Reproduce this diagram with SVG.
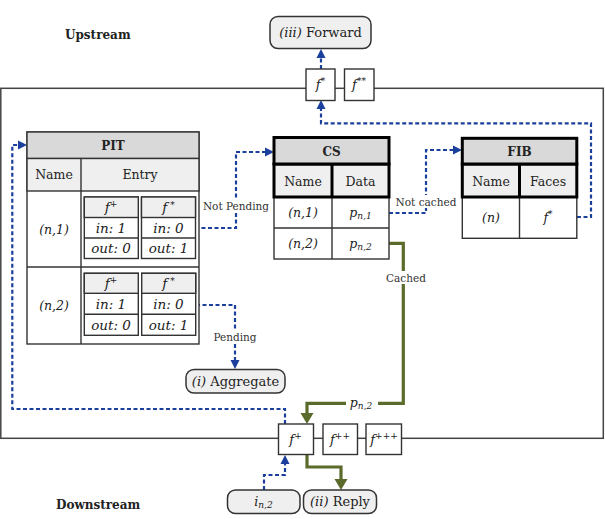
<svg xmlns="http://www.w3.org/2000/svg" width="605" height="519" viewBox="0 0 605 519">
<style>
text{font-family:"DejaVu Serif","Liberation Serif",serif;fill:#222;}
.t{font-size:12.5px;text-anchor:middle;}
.s{font-size:13.5px;}
.it{font-style:italic;}
.b{font-weight:bold;}
.lbl{font-size:10.5px;text-anchor:middle;fill:#333;}
.cell{fill:#fff;stroke:#333;stroke-width:1.4;}
.hd{fill:#d9d9d9;stroke:#333;stroke-width:1.4;}
.sub{fill:#efefef;stroke:#333;stroke-width:1.4;}
.thk{stroke:#000;stroke-width:3;}
.fbox{fill:#fff;stroke:#333;stroke-width:1.4;}
.rbox{fill:#efefef;stroke:#333;stroke-width:1.5;}
.blue{fill:none;stroke:#1b3f9c;stroke-width:2.2;stroke-dasharray:4 2.5;marker-end:url(#ab);}
.green{fill:none;stroke:#5a6b2c;stroke-width:3.2;marker-end:url(#ag);}
.bg{fill:#fff;}
</style>
<defs>
<marker id="ab" markerUnits="userSpaceOnUse" markerWidth="10" markerHeight="10" refX="0" refY="5" orient="auto">
<path d="M0,0.5 L9,5 L0,9.5 z" fill="#1b3f9c"/>
</marker>
<marker id="ag" markerUnits="userSpaceOnUse" markerWidth="12" markerHeight="14" refX="0" refY="7" orient="auto">
<path d="M0,0.5 L11,7 L0,13.5 z" fill="#5a6b2c"/>
</marker>
</defs>

<rect x="0.8" y="88.3" width="602.5" height="350" fill="none" stroke="#444" stroke-width="1.5"/>

<text x="65" y="39" class="b" style="font-size:12px">Upstream</text>
<text x="56" y="509" class="b" style="font-size:12px">Downstream</text>

<g id="connectors">
<path class="blue" d="M195,228 H236 V152 H265"/>
<path class="blue" d="M196,305 H235 V360"/>
<path class="blue" d="M389,213 H426 V150 H453"/>
<path class="blue" d="M577,217 H591 V123.3 H321 V109"/>
<path class="blue" d="M321,69 V58"/>
<path class="blue" d="M285,424 V409 H12.3 V145 H18"/>
<path class="blue" d="M264,490 V475 H285 V464"/>
<path class="green" d="M389,243.3 H403.3 V403.3 H307 V413"/>
<path class="green" d="M307,455 V467 H341 V479"/>
<rect class="bg" x="203" y="199" width="66" height="13"/>
<text class="lbl" x="236" y="210">Not Pending</text>
<rect class="bg" x="212" y="330" width="46" height="13"/>
<text class="lbl" x="235" y="341">Pending</text>
<rect class="bg" x="396" y="195" width="60" height="13"/>
<text class="lbl" x="426" y="206">Not cached</text>
<rect class="bg" x="386" y="271" width="40" height="13"/>
<text class="lbl" x="406" y="282">Cached</text>
<rect class="bg" x="346" y="395" width="32" height="16"/>
<text class="t it" x="361" y="407" style="font-size:12.5px">p<tspan font-size="9" dy="2">n,2</tspan></text>
</g>

<g id="forward">
<rect class="rbox" x="270" y="16.5" width="101" height="32" rx="8"/>
<text class="t" x="320.5" y="37" style="font-size:13px"><tspan class="it">(iii)</tspan> Forward</text>
</g>
<g id="fstar">
<rect class="fbox" x="306" y="69" width="29" height="31.5"/>
<text class="t it" x="320.5" y="89" style="font-size:13px">f<tspan font-size="9" dy="-5">*</tspan></text>
</g>
<g id="fstarstar">
<rect class="fbox" x="344.5" y="69" width="29.5" height="31.5"/>
<text class="t it" x="359" y="89" style="font-size:13px">f<tspan font-size="9" dy="-5">**</tspan></text>
</g>

<g id="pit">
<rect class="cell" x="27" y="132" width="172" height="212"/>
<rect class="hd" x="27" y="132" width="172" height="26.5"/>
<rect class="sub" x="27" y="158.5" width="172" height="32.5"/>
<line x1="81" y1="158.5" x2="81" y2="344" stroke="#333" stroke-width="1.4"/>
<line x1="27" y1="267" x2="199" y2="267" stroke="#333" stroke-width="1.4"/>
<text class="t b" x="113" y="150" style="font-size:12px">PIT</text>
<text class="t" x="54" y="179">Name</text>
<text class="t" x="140" y="179">Entry</text>
<text class="t it" x="54" y="233.5">(n,1)</text>
<text class="t it" x="54" y="310">(n,2)</text>
<rect class="cell" x="84.3" y="197" width="54" height="61.5"/>
<rect class="sub" x="84.3" y="197" width="54" height="20.5"/>
<line x1="84.3" y1="238" x2="138.3" y2="238" stroke="#333" stroke-width="1.4"/>
<rect class="cell" x="141.5" y="197" width="54" height="61.5"/>
<rect class="sub" x="141.5" y="197" width="54" height="20.5"/>
<line x1="141.5" y1="238" x2="195.5" y2="238" stroke="#333" stroke-width="1.4"/>
<text class="t s it" x="111" y="212">f<tspan font-size="9" dy="-5">+</tspan></text>
<text class="t s it" x="168.5" y="212">f<tspan font-size="9" dy="-4"> *</tspan></text>
<text class="t s it" x="111" y="232.5">in: 1</text>
<text class="t s it" x="168.5" y="232.5">in: 0</text>
<text class="t s it" x="111" y="253">out: 0</text>
<text class="t s it" x="168.5" y="253">out: 1</text>
<rect class="cell" x="84.3" y="273.3" width="54" height="62"/>
<rect class="sub" x="84.3" y="273.3" width="54" height="20"/>
<line x1="84.3" y1="314.3" x2="138.3" y2="314.3" stroke="#333" stroke-width="1.4"/>
<rect class="cell" x="141.7" y="273.3" width="54" height="62"/>
<rect class="sub" x="141.7" y="273.3" width="54" height="20"/>
<line x1="141.7" y1="314.3" x2="195.7" y2="314.3" stroke="#333" stroke-width="1.4"/>
<text class="t s it" x="111" y="288">f<tspan font-size="9" dy="-5">+</tspan></text>
<text class="t s it" x="168.5" y="288">f<tspan font-size="9" dy="-4"> *</tspan></text>
<text class="t s it" x="111" y="309">in: 1</text>
<text class="t s it" x="168.5" y="309">in: 0</text>
<text class="t s it" x="111" y="330">out: 0</text>
<text class="t s it" x="168.5" y="330">out: 1</text>
</g>

<g id="cs">
<rect class="cell" x="274" y="197" width="115" height="62"/>
<line x1="274" y1="228" x2="389" y2="228" stroke="#333" stroke-width="1.4"/>
<line x1="332" y1="197" x2="332" y2="259" stroke="#333" stroke-width="1.4"/>
<rect class="sub thk" x="274" y="164" width="115" height="33"/>
<line x1="332" y1="164" x2="332" y2="197" class="thk"/>
<rect class="hd thk" x="274" y="137.5" width="115" height="26.5"/>
<text class="t b" x="331.5" y="155.5" style="font-size:12px">CS</text>
<text class="t" x="303" y="185.5">Name</text>
<text class="t" x="360.5" y="185.5">Data</text>
<text class="t it" x="303" y="217">(n,1)</text>
<text class="t it" x="360.5" y="217">p<tspan font-size="9" dy="2">n,1</tspan></text>
<text class="t it" x="303" y="248">(n,2)</text>
<text class="t it" x="360.5" y="248">p<tspan font-size="9" dy="2">n,2</tspan></text>
</g>

<g id="fib">
<rect class="cell" x="462.3" y="197" width="114.5" height="41.3"/>
<line x1="519.5" y1="197" x2="519.5" y2="238.3" stroke="#333" stroke-width="1.4"/>
<rect class="sub thk" x="462.3" y="164" width="114.5" height="33"/>
<line x1="519.5" y1="164" x2="519.5" y2="197" class="thk"/>
<rect class="hd thk" x="462.3" y="138.3" width="114.5" height="25.7"/>
<text class="t b" x="519.5" y="156" style="font-size:12px">FIB</text>
<text class="t" x="491" y="185.5">Name</text>
<text class="t" x="548" y="185.5">Faces</text>
<text class="t it" x="491" y="222">(n)</text>
<text class="t it" x="548" y="222">f<tspan font-size="9" dy="-5">*</tspan></text>
</g>

<g id="aggregate">
<rect class="rbox" x="186" y="369.5" width="99" height="23.5" rx="8"/>
<text class="t" x="235.5" y="386" style="font-size:13px"><tspan class="it">(i)</tspan> Aggregate</text>
</g>

<g id="fplus">
<rect class="fbox" x="278.5" y="424" width="35" height="30.5"/>
<text class="t it" x="295.5" y="444" style="font-size:13px">f<tspan font-size="9" dy="-5">+</tspan></text>
</g>
<g id="fplusplus">
<rect class="fbox" x="323" y="424" width="34.5" height="30.5"/>
<text class="t it" x="340" y="444" style="font-size:13px">f<tspan font-size="9" dy="-5">++</tspan></text>
</g>
<g id="fplusplusplus">
<rect class="fbox" x="366" y="424" width="35.5" height="30.5"/>
<text class="t it" x="384" y="444" style="font-size:13px">f<tspan font-size="9" dy="-5">+++</tspan></text>
</g>

<g id="interest">
<rect class="rbox" x="227.5" y="490" width="72.5" height="23.5" rx="8"/>
<text class="t it" x="263.5" y="506">i<tspan font-size="9" dy="2">n,2</tspan></text>
</g>
<g id="reply">
<rect class="rbox" x="303.5" y="490" width="73" height="23.5" rx="8"/>
<text class="t" x="340" y="506" style="font-size:13px"><tspan class="it">(ii)</tspan> Reply</text>
</g>
</svg>
